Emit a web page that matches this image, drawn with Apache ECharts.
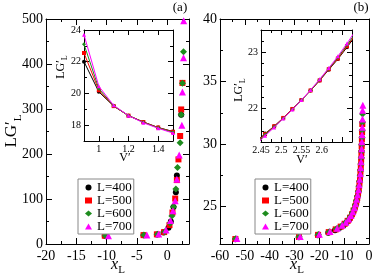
<!DOCTYPE html>
<html><head><meta charset="utf-8">
<script src="https://cdn.jsdelivr.net/npm/echarts@6/dist/echarts.min.js"></script>
<style>html,body{margin:0;padding:0;background:#fff}#c{width:374px;height:275px}</style>
</head><body><div id="c"></div>
<script>
const FONT = 'Liberation Serif';
const seriesNames = ['L=400', 'L=500', 'L=600', 'L=700'];
const colors = ['#000000', '#ff0000', '#1e8c1e', '#ff00ff'];
const symbols = ['circle', 'rect', 'diamond', 'triangle'];

// Panel (a) main: [x_L, LG'_L]
const a400 = [[-10.3,18.4],[-3.9,19.6],[-1.7,21.2],[-0.6,25.5],[0.22,36],[0.6,50],[1.04,82],[1.43,115],[1.6,152],[2.31,287]];
const a500 = [[-10.3,18.5],[-3.9,19.7],[-1.7,21.4],[-0.5,26.5],[0.38,42],[0.87,70],[1.32,101],[1.6,142],[1.86,188],[2.14,240],[2.31,299],[2.52,358]];
const a600 = [[-10.2,18.5],[-3.85,19.8],[-1.6,21.6],[-0.4,27.5],[0.5,46],[0.77,62],[1.04,83],[1.43,122],[1.7,170],[2.14,225],[2.31,287],[2.52,357],[2.69,427]];
const a700 = [[-9.7,18.6],[-3.35,19.9],[-1.4,22.2],[-0.2,31],[0.55,52],[0.95,74],[1.32,96],[1.6,144],[1.98,198],[2.42,264],[2.52,338],[2.69,414],[2.72,496]];

// Panel (a) inset: V' vs LG'_L
const iaV = [0.9, 1.0, 1.1, 1.2, 1.3, 1.4, 1.5];
const ia400 = [22.0, 20.1, 19.2, 18.6, 18.2, 17.85, 17.6];
const ia500 = [22.55, 20.2, 19.2, 18.6, 18.2, 17.85, 17.58];
const ia600 = [23.1, 20.3, 19.22, 18.6, 18.18, 17.83, 17.55];
const ia700 = [23.7, 20.45, 19.25, 18.6, 18.15, 17.8, 17.5];

// Panel (b) main
const b400 = [[-53.8,22.38],[-28.3,22.54],[-20.6,22.7],[-16.4,22.9],[-13.7,23.1],[-11.8,23.3],[-10.2,23.5],[-9.0,23.72],[-8.0,23.95],[-7.2,24.2],[-6.5,24.48],[-5.9,24.78],[-5.4,25.1],[-4.95,25.44],[-4.55,25.8],[-4.25,26.18],[-3.98,26.58],[-3.74,27.0],[-3.54,27.44],[-3.38,27.9],[-3.23,28.38],[-3.12,28.88],[-3.02,29.4],[-2.92,29.94],[-2.83,30.5],[-2.75,31.05]];
const b500 = [[-53.8,22.4],[-28.2,22.56],[-20.5,22.73],[-16.2,22.95],[-13.4,23.17],[-11.4,23.39],[-9.8,23.62],[-8.6,23.85],[-7.65,24.1],[-6.85,24.38],[-6.2,24.68],[-5.65,25.0],[-5.15,25.33],[-4.75,25.68],[-4.4,26.05],[-4.1,26.45],[-3.85,26.87],[-3.63,27.31],[-3.45,27.77],[-3.3,28.25],[-3.16,28.75],[-3.05,29.27],[-2.95,29.81],[-2.86,30.37],[-2.78,30.95],[-2.7,31.6]];
const b600 = [[-53.7,22.42],[-28.1,22.58],[-20.4,22.76],[-16.0,22.98],[-13.1,23.22],[-11.1,23.45],[-9.6,23.69],[-8.4,23.93],[-7.45,24.2],[-6.7,24.49],[-6.05,24.8],[-5.5,25.12],[-5.05,25.46],[-4.65,25.82],[-4.3,26.2],[-4.02,26.6],[-3.78,27.02],[-3.57,27.46],[-3.4,27.92],[-3.25,28.4],[-3.12,28.9],[-3.01,29.42],[-2.91,29.96],[-2.82,30.52],[-2.74,31.1],[-2.67,31.72],[-2.6,32.4]];
const b700 = [[-53.2,22.44],[-27.7,22.6],[-20.0,22.78],[-15.7,23.01],[-12.8,23.26],[-10.8,23.5],[-9.3,23.75],[-8.2,24.0],[-7.25,24.28],[-6.5,24.58],[-5.9,24.9],[-5.38,25.23],[-4.93,25.58],[-4.55,25.95],[-4.22,26.34],[-3.94,26.75],[-3.7,27.18],[-3.5,27.63],[-3.33,28.1],[-3.19,28.59],[-3.06,29.1],[-2.95,29.63],[-2.86,30.18],[-2.77,30.75],[-2.69,31.35],[-2.62,32.0],[-2.56,32.7],[-2.5,33.1]];

// Panel (b) inset
const ibV = [2.4375, 2.46, 2.4825, 2.505, 2.5275, 2.55, 2.5725, 2.595, 2.6175, 2.64, 2.6625, 2.685];
const ib400 = [21.40, 21.55, 21.68, 21.83, 21.99, 22.15, 22.32, 22.50, 22.69, 22.88, 23.09, 23.31];
const ib500 = [21.39, 21.54, 21.68, 21.83, 21.99, 22.15, 22.32, 22.50, 22.70, 22.89, 23.11, 23.33];
const ib600 = [21.37, 21.53, 21.67, 21.82, 21.98, 22.15, 22.32, 22.51, 22.71, 22.91, 23.13, 23.36];
const ib700 = [21.35, 21.51, 21.66, 21.82, 21.98, 22.15, 22.33, 22.52, 22.72, 22.93, 23.16, 23.40];

// Tick values
const aXMaj = [-20,-15,-10,-5,0], aXMin = [-17.5,-12.5,-7.5,-2.5,2.5];
const aYMaj = [0,100,200,300,400,500], aYMin = [50,150,250,350,450];
const bXMaj = [-60,-50,-40,-30,-20,-10,0], bXMin = [-55,-45,-35,-25,-15,-5];
const bYMaj = [25,30,35,40], bYMin = [22.5,27.5,32.5,37.5];
const iaXMaj = [1,1.2,1.4], iaXMin = [1.1,1.3];
const iaYMaj = [18,20,22,24], iaYMin = [19,21,23];
const ibXMaj = [2.45,2.5,2.55,2.6,2.65], ibXLab = [2.45,2.5,2.55,2.6], ibXMin = [2.475,2.525,2.575,2.625];
const ibYMaj = [22,23], ibYMin = [21.6,21.8,22.2,22.4,22.6,22.8,23.2];

const grids = [], xAxes = [], yAxes = [];
function addBox(o) {
  const gi = grids.length;
  grids.push({left:o.l, top:o.t, width:o.w, height:o.h, show:!!o.bg, backgroundColor:o.bg || 'transparent', borderWidth:0, containLabel:false, outerBoundsMode:'none'});
  grids.push({left:o.l, top:o.t, width:o.w, height:o.h, show:false, containLabel:false, outerBoundsMode:'none'});
  const mk = (gridIndex, pos, isX, ticks, len, labels, line) => {
    const ax = {
      gridIndex, type:'value', min: isX ? o.x[0] : o.y[0], max: isX ? o.x[1] : o.y[1], position: pos,
      axisLine:{show:line, onZero:false, lineStyle:{color:'#000', width:1}},
      axisTick:{show:true, inside:true, length:len, customValues:ticks, lineStyle:{color:'#000', width:1}},
      axisLabel: labels ? {show:true, customValues:labels, fontSize:o.fs, fontFamily:FONT, color:'#000', margin: isX ? o.mx : o.my} : {show:false},
      splitLine:{show:false}, minorTick:{show:false}, axisPointer:{show:false}
    };
    const arr = isX ? xAxes : yAxes;
    arr.push(ax);
    return arr.length - 1;
  };
  const xi = mk(gi, 'bottom', true, o.xMaj, o.maj, o.xLab, true);
  mk(gi, 'top', true, o.xMaj, o.maj, null, true);
  const yi = mk(gi, 'left', false, o.yMaj, o.maj, o.yLab, true);
  mk(gi, 'right', false, o.yMaj, o.maj, null, true);
  mk(gi+1, 'bottom', true, o.xMin, o.min, null, false);
  mk(gi+1, 'top', true, o.xMin, o.min, null, false);
  mk(gi+1, 'left', false, o.yMin, o.min, null, false);
  mk(gi+1, 'right', false, o.yMin, o.min, null, false);
  return {xi, yi};
}

const A = addBox({l:46, t:19, w:143, h:225, x:[-20,3.6], y:[0,500], xMaj:aXMaj, xLab:aXMaj, xMin:aXMin, yMaj:aYMaj, yLab:aYMaj, yMin:aYMin, maj:6, min:3, fs:14, mx:5, my:3});
const IA = addBox({l:84, t:30, w:89, h:111, x:[0.9,1.5], y:[17,24], xMaj:iaXMaj, xLab:iaXMaj, xMin:iaXMin, yMaj:iaYMaj, yLab:iaYMaj, yMin:iaYMin, maj:5, min:3, fs:10, mx:3, my:3, bg:'#fff'});
const B = addBox({l:220, t:19, w:149, h:225, x:[-60,0], y:[22,40], xMaj:bXMaj, xLab:bXMaj, xMin:bXMin, yMaj:bYMaj, yLab:bYMaj, yMin:bYMin, maj:6, min:3, fs:14, mx:5, my:3});
const IB = addBox({l:261, t:30, w:91, h:112, x:[2.45,2.675], y:[21.4,23.4], xMaj:ibXMaj, xLab:ibXLab, xMin:ibXMin, yMaj:ibYMaj, yLab:ibYMaj, yMin:ibYMin, maj:5, min:3, fs:10, mx:3, my:3, bg:'#fff'});

const series = [];
const mainA = [a400, a500, a600, a700], mainB = [b400, b500, b600, b700];
const insA = [ia400, ia500, ia600, ia700], insB = [ib400, ib500, ib600, ib700];
const mainSize = [6, 6, 7, 7];
for (let k = 0; k < 4; k++) {
  const iaData = iaV.map((v, i) => [v, insA[k][i]]);
  const ibData = ibV.map((v, i) => [v, insB[k][i]]);
  series.push({type:'line', name:'ia'+k, xAxisIndex:IA.xi, yAxisIndex:IA.yi, data:iaData, clip:true, symbol:symbols[k], symbolSize:4, showAllSymbol:true,
    lineStyle:{color:colors[k], width:1}, itemStyle:{color:colors[k]}, z:3+k*0.1});
  series.push({type:'line', name:'ib'+k, xAxisIndex:IB.xi, yAxisIndex:IB.yi, data:ibData, clip:true, symbol:symbols[k], symbolSize:4, showAllSymbol:true,
    lineStyle:{color:colors[k], width:1}, itemStyle:{color:colors[k]}, z:3+k*0.1});
}
for (let k = 0; k < 4; k++) {
  series.push({type:'scatter', name:seriesNames[k], xAxisIndex:A.xi, yAxisIndex:A.yi, data:mainA[k], symbol:symbols[k], symbolSize:mainSize[k], itemStyle:{color:colors[k], opacity:1}, z:2+k*0.1});
  series.push({type:'scatter', name:seriesNames[k], xAxisIndex:B.xi, yAxisIndex:B.yi, data:mainB[k], symbol:symbols[k], symbolSize:mainSize[k], itemStyle:{color:colors[k], opacity:1}, z:2+k*0.1});
}

const legendBase = {data:seriesNames, orient:'vertical', itemWidth:7, itemHeight:6, itemGap:0, padding:[2,2,1,7],
  borderColor:'#888', borderWidth:1, borderRadius:0, backgroundColor:'#fff', selectedMode:false,
  textStyle:{fontFamily:FONT, fontSize:13, color:'#000', lineHeight:11.5}};

function richLG(fs, sfs) {
  return {m:{fontSize:fs, fontFamily:FONT, lineHeight:fs, verticalAlign:'top', fill:'#000'},
          s:{fontSize:sfs, fontFamily:FONT, lineHeight:sfs, verticalAlign:'top', padding:[Math.round(fs*0.5),0,0,0], fill:'#000'}};
}
function richX(fs, sfs) {
  return {m:{fontSize:fs, fontFamily:FONT, fontStyle:'italic', lineHeight:fs, verticalAlign:'top', fill:'#000'},
          s:{fontSize:sfs, fontFamily:FONT, lineHeight:sfs, verticalAlign:'top', padding:[Math.round(fs*0.5),0,0,0], fill:'#000'}};
}
function txt(x, y, rot, text, rich, fs) {
  return {type:'text', x, y, rotation:rot, z:100,
    style:{text, rich, fontFamily:FONT, fontSize:fs || 13, fill:'#000', align:'center', verticalAlign:'middle'}};
}

const graphic = [
  txt(12, 131, Math.PI/2, '{m|LG′}{s|L}', richLG(17, 11)),
  txt(61, 67, Math.PI/2, '{m|LG′}{s|L}', richLG(12, 8)),
  txt(239, 90, Math.PI/2, '{m|LG′}{s|L}', richLG(12, 8)),
  txt(118, 265, 0, '{m|x}{s|L}', richX(16, 11)),
  txt(297, 265, 0, '{m|x}{s|L}', richX(16, 11)),
  txt(125, 158, 0, 'V′', null, 12),
  txt(302, 160, 0, 'V′', null, 12),
  txt(180, 8, 0, '(a)', null, 13),
  txt(361, 8, 0, '(b)', null, 13)
];

const chart = echarts.init(document.getElementById('c'), null, {renderer:'canvas'});
chart.setOption({
  animation:false,
  backgroundColor:'#fff',
  grid:grids, xAxis:xAxes, yAxis:yAxes, series,
  legend:[Object.assign({left:78, top:179}, legendBase), Object.assign({left:255, top:179}, legendBase)],
  graphic
});
</script>
</body></html>
